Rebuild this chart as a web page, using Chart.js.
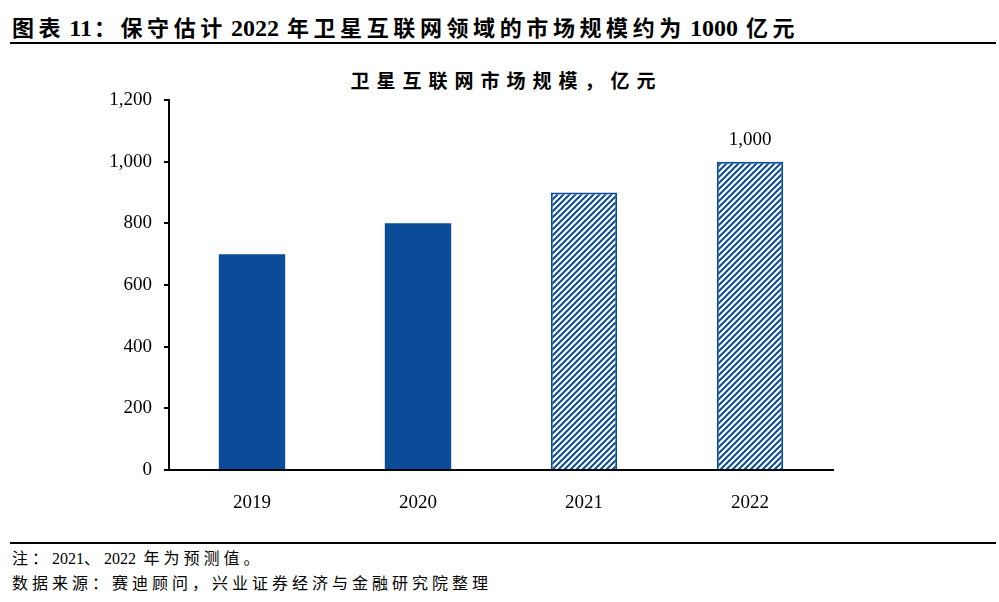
<!DOCTYPE html>
<html>
<head>
<meta charset="utf-8">
<script src="https://cdn.jsdelivr.net/npm/chart.js@4.4.0/dist/chart.umd.min.js"></script>
<style>
    html, body { margin: 0; padding: 0; background: #fff; }
    body { width: 999px; height: 602px; position: relative; overflow: hidden; }
    .head { position: absolute; left: 12px; top: 10px; font-family: "Noto Sans CJK SC", serif; font-weight: 700; font-size: 22px; letter-spacing: 4.6px; color: #000; white-space: nowrap; }
    .head .num { font-size: 24px; margin: 0 8px 0 4px; }
    .rule { position: absolute; left: 10px; width: 986px; height: 2px; background: #000; }
    .sub { position: absolute; left: 7px; width: 999px; top: 66px; text-align: center; font-family: "Noto Sans CJK SC", serif; font-weight: 700; font-size: 19px; letter-spacing: 7px; color: #000; }
    .foot { position: absolute; left: 12px; font-family: "Noto Sans CJK SC", serif; font-size: 16px; letter-spacing: 4px; color: #000; white-space: nowrap; }
    .num { font-family: "Liberation Serif", serif; letter-spacing: 0; }
    #wrap { position: absolute; left: 0; top: 50px; width: 999px; height: 480px; }
</style>
</head>
<body>
<div class="head">图表<span class="num" style="margin-right:2px">11</span>：保守估计<span class="num">2022</span>年卫星互联网领域的市场规模约为<span class="num">1000</span>亿元</div>
<div class="rule" style="top:42px"></div>
<div class="sub">卫星互联网市场规模，亿元</div>
<div id="wrap"><canvas id="chart"></canvas></div>
<div class="rule" style="top:542px"></div>
<div class="foot" style="top:545px">注：<span class="num">2021</span>、<span class="num">2022</span> 年为预测值。</div>
<div class="foot" style="top:570px">数据来源：赛迪顾问，兴业证券经济与金融研究院整理</div>
<script>
// 数据
const years = ['2019', '2020', '2021', '2022'];
const marketSize = [700, 800, 900, 1000];
const isForecast = [false, false, true, true];
const yTicks = [0, 200, 400, 600, 800, 1000, 1200];
const labelYears = ['2022'];

const blue = '#0A4C97';

// 斜线填充
function makeHatch() {
    const c = document.createElement('canvas');
    c.width = 6; c.height = 6;
    const g = c.getContext('2d');
    g.fillStyle = '#fff';
    g.fillRect(0, 0, 6, 6);
    g.strokeStyle = blue;
    g.lineWidth = 2;
    g.beginPath();
    g.moveTo(-1, 7); g.lineTo(7, -1);
    g.moveTo(-1, 1); g.lineTo(1, -1);
    g.moveTo(5, 7); g.lineTo(7, 5);
    g.stroke();
    return g.createPattern(c, 'repeat');
}
const hatch = makeHatch();

const fmt = v => v.toLocaleString('en-US');

const valueLabels = {
    id: 'valueLabels',
    afterDatasetsDraw(chart) {
        const ctx = chart.ctx;
        const meta = chart.getDatasetMeta(0);
        ctx.save();
        ctx.font = '19px "Liberation Serif", serif';
        ctx.fillStyle = '#000';
        ctx.textAlign = 'center';
        ctx.textBaseline = 'bottom';
        meta.data.forEach((bar, i) => {
            if (labelYears.includes(years[i])) ctx.fillText(fmt(marketSize[i]), bar.x, bar.y - 12);
        });
        ctx.restore();
    }
};

new Chart(document.getElementById('chart'), {
    type: 'bar',
    data: {
        labels: years,
        datasets: [{
            data: marketSize,
            backgroundColor: isForecast.map(f => f ? hatch : blue),
            borderColor: blue,
            borderWidth: isForecast.map(f => f ? 2 : 0),
            categoryPercentage: 1,
            barPercentage: 0.4
        }]
    },
    options: {
        responsive: true,
        maintainAspectRatio: false,
        animation: false,
        layout: { padding: { left: 0, right: 166, top: 50, bottom: 0 } },
        plugins: { legend: { display: false }, tooltip: { enabled: false }, title: { display: false } },
        scales: {
            x: {
                grid: { display: false },
                border: { color: '#000', width: 2 },
                ticks: { color: '#000', font: { family: '"Liberation Serif", serif', size: 19 }, padding: 14 },
                afterFit: s => { s.height = 60; }
            },
            y: {
                min: 0,
                max: 1200,
                afterBuildTicks: s => { s.ticks = yTicks.map(v => ({ value: v })); },
                grid: { drawOnChartArea: false, color: '#000', lineWidth: 2, tickLength: 5 },
                border: { color: '#000', width: 2 },
                ticks: { color: '#000', font: { family: '"Liberation Serif", serif', size: 19 }, padding: 12, callback: v => fmt(v) },
                afterFit: s => { s.width = 169; }
            }
        }
    },
    plugins: [valueLabels]
});
</script>
</body>
</html>
